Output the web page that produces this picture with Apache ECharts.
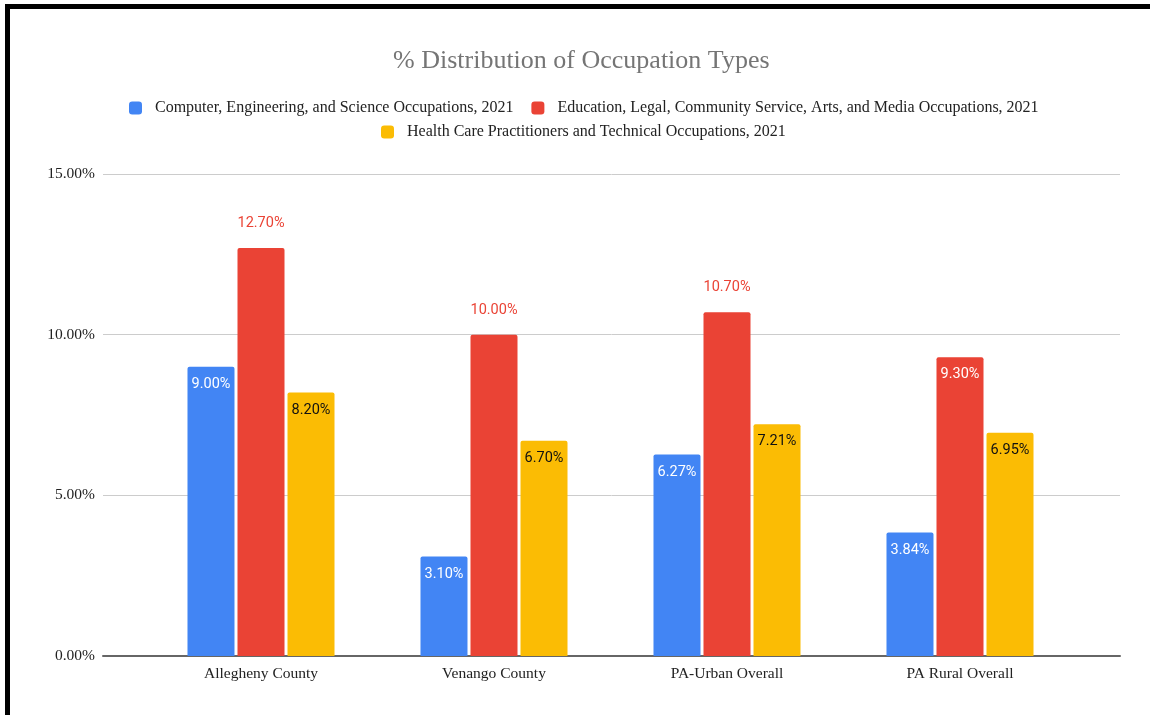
<!DOCTYPE html>
<html>
<head>
<meta charset="utf-8">
<script src="https://cdn.jsdelivr.net/npm/echarts@6/dist/echarts.min.js"></script>
<style>
html,body{margin:0;padding:0;background:#fff;overflow:hidden;}
#chart{position:absolute;left:0;top:0;width:1150px;height:715px;}
#frame{position:absolute;left:5px;top:4px;width:1200px;height:800px;border:5px solid #000;pointer-events:none;box-sizing:border-box;}
</style>
</head>
<body>
<div id="chart"></div>
<div id="frame"></div>
<script>
const categories = ['Allegheny County', 'Venango County', 'PA-Urban Overall', 'PA Rural Overall'];
const seriesNames = [
  'Computer, Engineering, and Science Occupations, 2021',
  'Education, Legal, Community Service, Arts, and Media Occupations, 2021',
  'Health Care Practitioners and Technical Occupations, 2021'
];
const computerVals = [9.00, 3.10, 6.27, 3.84];
const educationVals = [12.70, 10.00, 10.70, 9.30];
const healthVals = [8.20, 6.70, 7.21, 6.95];
const yTicks = [0, 5, 10, 15];

const colors = ['#4285f4', '#ea4335', '#fbbc04'];
const serif = '"Liberation Serif", "Times New Roman", serif';
const fmt = v => v.toFixed(2) + '%';

function barSeries(name, vals, color, labelColor, outsideRule) {
  return {
    name: name,
    type: 'bar',
    xAxisIndex: 1,
    yAxisIndex: 1,
    barWidth: 47,
    barGap: '6.4%',
    itemStyle: {color: color, borderRadius: [2, 2, 0, 0]},
    data: vals.map(v => {
      const out = outsideRule(v);
      return {
        value: v,
        label: out ? {position: 'top', distance: 17, color: '#ea4335'}
                   : {position: 'insideTop', distance: 10, color: labelColor}
      };
    }),
    label: {
      show: true,
      fontFamily: 'Roboto, sans-serif',
      fontSize: 14.5,
      formatter: p => fmt(p.value)
    }
  };
}

const legendText = {fontFamily: serif, fontSize: 16, color: '#222', padding: [0, 0, 0, 8]};

const chart = echarts.init(document.getElementById('chart'), null, {renderer: 'canvas'});
chart.setOption({
  animation: false,
  color: colors,
  title: {
    text: '% Distribution of Occupation Types',
    left: 393, top: 48, padding: 0,
    textStyle: {fontFamily: serif, fontSize: 26, fontWeight: 'normal', color: '#757575'}
  },
  legend: [
    {
      data: [seriesNames[0], seriesNames[1]],
      left: 129, top: 100, padding: 0,
      icon: 'roundRect', itemWidth: 13, itemHeight: 13, itemGap: 18,
      textStyle: legendText
    },
    {
      data: [seriesNames[2]],
      left: 381, top: 124, padding: 0,
      icon: 'roundRect', itemWidth: 13, itemHeight: 13,
      textStyle: legendText
    }
  ],
  grid: [
    {left: 103, right: 30, top: 174, bottom: 59},
    {left: 144.5, width: 932, top: 174, bottom: 59}
  ],
  xAxis: [
    {
      type: 'value', gridIndex: 0, min: 0, max: 1,
      axisLine: {show: true, lineStyle: {color: '#666', width: 2}},
      axisTick: {show: false}, axisLabel: {show: false}, splitLine: {show: false}
    },
    {
      type: 'category', gridIndex: 1, data: categories,
      axisLine: {show: false}, axisTick: {show: false},
      axisLabel: {fontFamily: serif, fontSize: 15.5, color: '#222', margin: 10}
    }
  ],
  yAxis: [
    {
      type: 'value', gridIndex: 0, min: yTicks[0], max: yTicks[yTicks.length - 1], interval: 5,
      axisLine: {show: false}, axisTick: {show: false},
      axisLabel: {fontFamily: serif, fontSize: 15.5, color: '#222', margin: 8, formatter: v => fmt(v)},
      splitLine: {lineStyle: {color: '#cccccc', width: 1}}
    },
    {
      type: 'value', gridIndex: 1, min: 0, max: 15, show: false
    }
  ],
  series: [
    barSeries(seriesNames[0], computerVals, colors[0], '#ffffff', v => false),
    barSeries(seriesNames[1], educationVals, colors[1], '#ffffff', v => v >= 10),
    barSeries(seriesNames[2], healthVals, colors[2], '#111111', v => false)
  ]
});
</script>
</body>
</html>
